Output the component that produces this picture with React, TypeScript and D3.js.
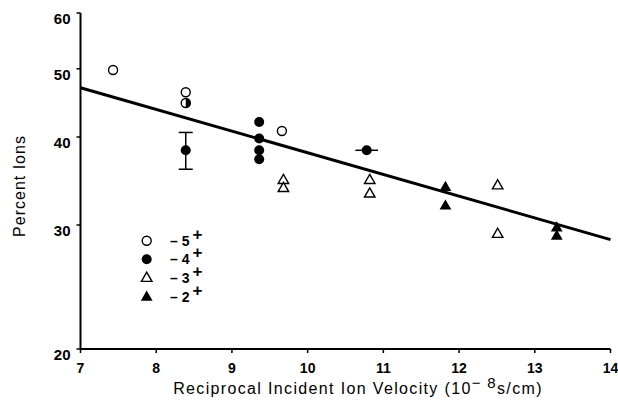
import React from "react";
import * as d3 from "d3";

const xTicks = [7, 8, 9, 10, 11, 12, 13, 14];
const yTicks = [20, 30, 40, 50, 60];

// [reciprocal velocity, percent ions]
const ions5 = [[7.43, 49.8], [8.39, 46.3], [9.66, 40.8]];
const ions4 = [[8.39, 38.3], [9.36, 42.0], [9.36, 39.8], [9.36, 38.3], [9.36, 37.2], [10.78, 38.3]];
const ions5and4 = [[8.39, 44.7]]; // overlapping -5+ / -4+ (half-filled)
const ions3 = [[9.68, 34.7], [9.68, 33.8], [10.82, 34.7], [10.82, 33.2], [12.51, 34.1], [12.51, 29.1]];
const ions2 = [[11.82, 33.9], [11.82, 31.9], [13.29, 29.7], [13.29, 28.9]];
const vErrors = [[8.39, 36.0, 40.6]];
const hErrors = [[38.3, 10.63, 10.93]];
const fitLine = [[7, 47.0], [14, 28.6]];
const legendLabels = ["5", "4", "3", "2"];

export default function App() {
  const W = 618, H = 404;
  const x = d3.scaleLinear().domain([7, 14]).range([80.5, 610.5]);
  const y = d3.scaleLog().domain([20, 60]).range([349, 13]);
  const font = "'Liberation Sans', Arial, Helvetica, sans-serif";
  const tri = d3.symbol().type(d3.symbolTriangle).size(48)()!;
  const line = d3.line<number[]>().x(d => x(d[0])).y(d => y(d[1]));

  const openCircle = (cx: number, cy: number, k: string) => (
    <circle key={k} cx={cx} cy={cy} r={4.5} fill="white" stroke="black" strokeWidth={1.4} />
  );
  const fullCircle = (cx: number, cy: number, k: string) => (
    <circle key={k} cx={cx} cy={cy} r={5} fill="black" />
  );
  const openTri = (cx: number, cy: number, k: string) => (
    <path key={k} d={tri} transform={`translate(${cx},${cy})`} fill="white" stroke="black" strokeWidth={1.4} />
  );
  const fullTri = (cx: number, cy: number, k: string) => (
    <path key={k} d={tri} transform={`translate(${cx},${cy}) scale(1.12)`} fill="black" />
  );

  const legendY = [240.7, 259.3, 278.3, 297.3];
  const markers = [openCircle, fullCircle, openTri, fullTri];

  return (
    <svg width={W} height={H} style={{ position: "absolute", left: 0, top: 0, background: "white" }}>
      <rect width={W} height={H} fill="white" />
      {/* axes */}
      <line x1={x(7)} x2={x(14)} y1={y(20)} y2={y(20)} stroke="black" strokeWidth={2} />
      <line x1={x(7)} x2={x(7)} y1={y(20)} y2={y(60)} stroke="black" strokeWidth={2} />
      {xTicks.map(t => (
        <g key={"xt" + t}>
          <line x1={x(t)} x2={x(t)} y1={y(20)} y2={y(20) + 4} stroke="black" strokeWidth={1.5} />
          <text x={x(t)} y={373} textAnchor="middle" fontFamily={font} fontWeight="bold" fontSize={14}>{t}</text>
        </g>
      ))}
      {yTicks.map(t => (
        <g key={"yt" + t}>
          <line x1={x(7) - 4} x2={x(7)} y1={y(t)} y2={y(t)} stroke="black" strokeWidth={1.5} />
          <text x={x(7) - 10} y={y(t) + 11} textAnchor="end" fontFamily={font} fontWeight="bold" fontSize={15}>{t}</text>
        </g>
      ))}
      <text x={358} y={394} textAnchor="middle" fontFamily={font} fontSize={16} letterSpacing={1.35}>
        Reciprocal Incident Ion Velocity (10
        <tspan dy={-6} fontSize={15}>{"\u2212 8"}</tspan>
        <tspan dy={6}>s/cm)</tspan>
      </text>
      <text transform={`translate(25,186) rotate(-90)`} textAnchor="middle" fontFamily={font} fontSize={16} letterSpacing={1}>Percent Ions</text>

      {/* fit line */}
      <path d={line(fitLine)!} fill="none" stroke="black" strokeWidth={3} />

      {/* error bars */}
      {vErrors.map((e, i) => (
        <g key={"ve" + i} stroke="black" strokeWidth={1.5}>
          <line x1={x(e[0])} x2={x(e[0])} y1={y(e[1])} y2={y(e[2])} />
          <line x1={x(e[0]) - 7} x2={x(e[0]) + 7} y1={y(e[1])} y2={y(e[1])} />
          <line x1={x(e[0]) - 7} x2={x(e[0]) + 7} y1={y(e[2])} y2={y(e[2])} />
        </g>
      ))}
      {hErrors.map((e, i) => (
        <line key={"he" + i} x1={x(e[1])} x2={x(e[2])} y1={y(e[0])} y2={y(e[0])} stroke="black" strokeWidth={1.5} />
      ))}

      {/* points */}
      {ions5.map((d, i) => openCircle(x(d[0]), y(d[1]), "c5" + i))}
      {ions4.map((d, i) => fullCircle(x(d[0]), y(d[1]), "c4" + i))}
      {ions5and4.map((d, i) => {
        const cx = x(d[0]), cy = y(d[1]);
        return (
          <g key={"h" + i}>
            <circle cx={cx} cy={cy} r={4.5} fill="white" stroke="black" strokeWidth={1.4} />
            <path d={`M${cx},${cy - 5}A5,5 0 0 1 ${cx},${cy + 5}Z`} fill="black" />
          </g>
        );
      })}
      {ions3.map((d, i) => openTri(x(d[0]), y(d[1]), "t3" + i))}
      {ions2.map((d, i) => fullTri(x(d[0]), y(d[1]), "t2" + i))}

      {/* legend */}
      {legendLabels.map((lab, i) => (
        <g key={"lg" + i}>
          {markers[i](146.7, legendY[i], "lm" + i)}
          <text x={170} y={legendY[i] + 5} fontFamily={font} fontWeight="bold" fontSize={14}>
            {"\u2013 " + lab}
            <tspan dx={3} dy={-6} fontSize={17}>+</tspan>
          </text>
        </g>
      ))}
    </svg>
  );
}
